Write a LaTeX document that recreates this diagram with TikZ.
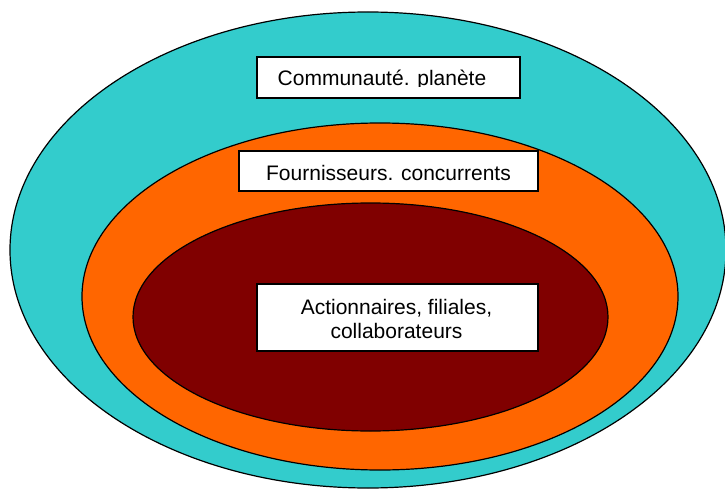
\documentclass[tikz,border=0pt]{standalone}
\usepackage{fontspec}
\setmainfont{Liberation Sans}
\definecolor{commcolor}{HTML}{33CCCC}
\definecolor{suppcolor}{HTML}{FF6600}
\definecolor{corecolor}{HTML}{800000}

\begin{document}
\begin{tikzpicture}[x=1pt, y=-1pt,
	ring/.style={draw=black, line width=1.2pt},
	box/.style={draw=black, fill=white, line width=1.5pt, inner sep=0pt},
	lbl/.style={font=\fontsize{21}{23.5}\selectfont, inner sep=0pt, align=center}]
			\useasboundingbox (0,0) rectangle (725,489);
			\draw [ring, fill=commcolor] (368,250) ellipse [x radius=358, y radius=238];
			\draw [ring, fill=suppcolor] (380,296.5) ellipse [x radius=298, y radius=173.5];
			\draw [ring, fill=corecolor] (370.5,317) ellipse [x radius=237.5, y radius=114];
			\node [box, minimum width=263pt, minimum height=41pt] (commbox) at (388.5,77.5) {};
			\begin{scope}
				\clip (257,57) rectangle (520,87);
				\node [lbl, anchor=base] (comm) at (382,86) {Communauté. planète};
			\end{scope}
			\node [box, minimum width=299pt, minimum height=40pt] (suppbox) at (388.5,171) {};
			\node [lbl, anchor=base] (supp) at (388.5,181) {Fournisseurs. concurrents};
			\node [box, minimum width=281pt, minimum height=67pt] (corebox) at (397.5,317.5) {};
			\node [lbl] (core) at (396.5,319) {Actionnaires, filiales,\\collaborateurs};
		\end{tikzpicture}
\end{document}
